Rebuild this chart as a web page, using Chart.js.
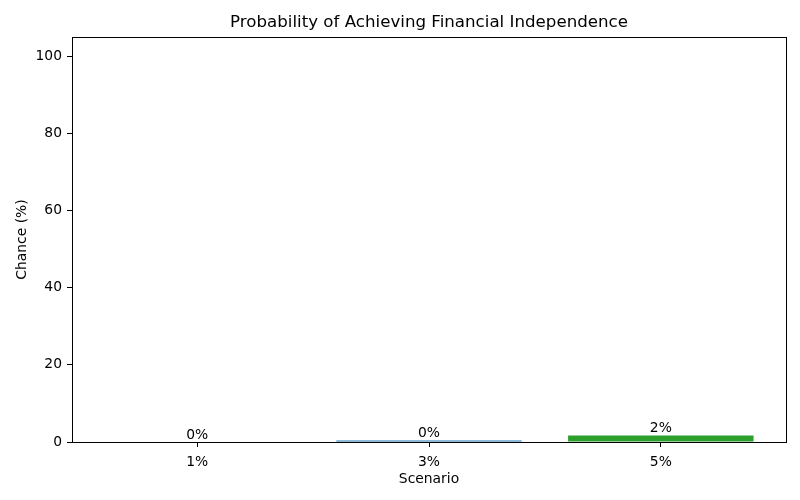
<!DOCTYPE html>
<html>
<head>
<meta charset="utf-8">
<script src="https://cdn.jsdelivr.net/npm/chart.js@4.4.0/dist/chart.umd.min.js"></script>
<style>
  body { margin: 0; background: #fff; }
  canvas { display: block; }
</style>
</head>
<body>
<canvas id="chartId" width="800" height="500"></canvas>
<script>
// scenario labels and chance values (%)
const scenarios = ["1%", "3%", "5%"];
const chance = [0, 0.4, 1.7];
const barColors = ["#d62728", "#1f77b4", "#2ca02c"];
const yTicks = [0, 20, 40, 60, 80, 100];
const titleText = "Probability of Achieving Financial Independence";

const font = { family: "DejaVu Sans", size: 13.89 };

// box round the plot area + title centred over it
const frame = {
  id: "frame",
  afterDraw(chart) {
    const a = chart.chartArea;
    const ctx = chart.ctx;
    ctx.save();
    ctx.strokeStyle = "#000";
    ctx.lineWidth = 1;
    ctx.strokeRect(Math.round(a.left) + 0.5, Math.round(a.top) + 0.5,
      Math.round(a.right - a.left), Math.round(a.bottom - a.top));
    ctx.font = "16.67px " + font.family;
    ctx.fillStyle = "#000";
    ctx.textAlign = "center";
    ctx.textBaseline = "bottom";
    ctx.fillText(titleText, (a.left + a.right) / 2, a.top - 6);
    ctx.restore();
  }
};

// value labels above each bar
const barLabels = {
  id: "barLabels",
  afterDatasetsDraw(chart) {
    const ctx = chart.ctx;
    const meta = chart.getDatasetMeta(0);
    ctx.save();
    ctx.font = font.size + "px " + font.family;
    ctx.fillStyle = "#000";
    ctx.textAlign = "center";
    ctx.textBaseline = "bottom";
    meta.data.forEach(function (bar, i) {
      ctx.fillText(Math.round(chance[i]) + "%", bar.x, bar.y);
    });
    ctx.restore();
  }
};

const chrt = document.getElementById("chartId").getContext("2d");

new Chart(chrt, {
  type: "bar",
  data: {
    datasets: [
      {
        data: chance.map(function (v, i) { return { x: i, y: v }; }),
        backgroundColor: barColors,
        borderWidth: 0,
        categoryPercentage: 1,
        barPercentage: 0.8
      }
    ]
  },
  options: {
    responsive: false,
    animation: false,
    layout: { padding: { left: 0, right: 14, top: 37, bottom: 0 } },
    plugins: {
      legend: { display: false },
      tooltip: { enabled: false },
      title: { display: false }
    },
    scales: {
      x: {
        type: "linear",
        min: -0.54,
        max: 2.54,
        offset: false,
        afterBuildTicks(scale) {
          scale.ticks = scenarios.map(function (s, i) { return { value: i }; });
        },
        afterFit(scale) { scale.height = 58; },
        ticks: {
          color: "#000",
          font: font,
          padding: 7,
          autoSkip: false,
          maxRotation: 0,
          callback: function (v) { return scenarios[v]; }
        },
        grid: { offset: false, drawOnChartArea: false, drawTicks: true, tickLength: 5, color: "#000" },
        border: { display: true, color: "#000" },
        title: {
          display: true,
          text: "Scenario",
          color: "#000",
          font: font,
          padding: { top: 0, bottom: 12 }
        }
      },
      y: {
        min: 0,
        max: 105,
        afterBuildTicks(scale) {
          scale.ticks = yTicks.map(function (v) { return { value: v }; });
        },
        afterFit(scale) { scale.width = 72; },
        ticks: { color: "#000", font: font, padding: 5 },
        grid: { drawOnChartArea: false, drawTicks: true, tickLength: 5, color: "#000" },
        border: { display: true, color: "#000" },
        title: {
          display: true,
          text: "Chance (%)",
          color: "#000",
          font: font,
          padding: { top: 14, bottom: 0 }
        }
      }
    }
  },
  plugins: [frame, barLabels]
});
</script>
</body>
</html>
